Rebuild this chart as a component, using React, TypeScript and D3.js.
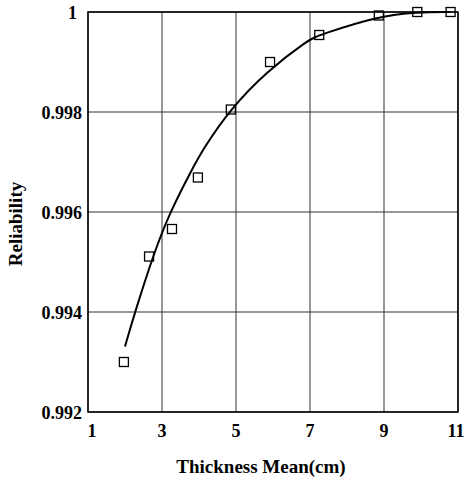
import React, { useEffect, useRef } from "react";
import * as d3 from "d3";

// measured points (squares)
const pointX = [1.97, 2.65, 3.27, 3.97, 4.86, 5.92, 7.25, 8.86, 9.9, 10.8];
const pointY = [0.993, 0.99511, 0.99566, 0.99669, 0.99805, 0.999, 0.99954, 0.99993, 1.0, 1.0];

// fitted curve
const curveX = [2.0, 2.27, 2.81, 3.22, 3.8, 4.12, 4.84, 5.83, 6.95, 7.25, 8.86, 9.9, 10.8];
const curveY = [0.99331, 0.994, 0.99524, 0.996, 0.99684, 0.99727, 0.99805, 0.99881, 0.99944, 0.99954, 0.99992, 1.0, 1.0];

const xTicks = [1, 3, 5, 7, 9, 11];
const yTicks = [0.992, 0.994, 0.996, 0.998, 1];

function App() {
  const ref = useRef<SVGSVGElement>(null);

  useEffect(() => {
    const svg = d3.select(ref.current);
    svg.selectAll("*").remove();

    const x = d3.scaleLinear().domain([1, 11]).range([88, 458]);
    const y = d3.scaleLinear().domain([0.992, 1]).range([412, 12]);
    const font = "'Liberation Serif', 'Times New Roman', serif";

    const g = svg.append("g");

    // grid
    g.selectAll("line.vg")
      .data(xTicks)
      .enter()
      .append("line")
      .attr("x1", d => x(d))
      .attr("x2", d => x(d))
      .attr("y1", y(0.992))
      .attr("y2", y(1))
      .attr("stroke", "#333")
      .attr("stroke-width", 1);
    g.selectAll("line.hg")
      .data(yTicks)
      .enter()
      .append("line")
      .attr("x1", x(1))
      .attr("x2", x(11))
      .attr("y1", d => y(d))
      .attr("y2", d => y(d))
      .attr("stroke", "#333")
      .attr("stroke-width", 1);

    // frame
    g.append("rect")
      .attr("x", x(1))
      .attr("y", y(1))
      .attr("width", x(11) - x(1))
      .attr("height", y(0.992) - y(1))
      .attr("fill", "none")
      .attr("stroke", "#000")
      .attr("stroke-width", 1.5);

    // tick labels
    g.selectAll("text.xt")
      .data(xTicks)
      .enter()
      .append("text")
      .attr("x", d => x(d) + (d === 1 ? 4 : d === 11 ? -2 : 0))
      .attr("y", 437)
      .attr("text-anchor", "middle")
      .attr("font-family", font)
      .attr("font-weight", "bold")
      .attr("font-size", 18)
      .text(d => d);
    g.selectAll("text.yt")
      .data(yTicks)
      .enter()
      .append("text")
      .attr("x", d => (d === 1 ? 77 : 82))
      .attr("y", d => y(d) + 7)
      .attr("text-anchor", "end")
      .attr("font-family", font)
      .attr("font-weight", "bold")
      .attr("font-size", 18)
      .text(d => (d === 1 ? "1" : d3.format(".3f")(d)));

    // axis titles
    g.append("text")
      .attr("x", 261)
      .attr("y", 473)
      .attr("text-anchor", "middle")
      .attr("font-family", font)
      .attr("font-weight", "bold")
      .attr("font-size", 19)
      .text("Thickness Mean(cm)");
    g.append("text")
      .attr("transform", `translate(22, 224) rotate(-90)`)
      .attr("text-anchor", "middle")
      .attr("font-family", font)
      .attr("font-weight", "bold")
      .attr("font-size", 19)
      .text("Reliability");

    // curve
    const line = d3.line<number>()
      .x(i => x(curveX[i]))
      .y(i => y(curveY[i]))
      .curve(d3.curveBasis);
    g.append("path")
      .attr("d", line(d3.range(curveX.length)))
      .attr("fill", "none")
      .attr("stroke", "#000")
      .attr("stroke-width", 2);

    // squares
    g.selectAll("rect.pt")
      .data(d3.range(pointX.length))
      .enter()
      .append("rect")
      .attr("x", i => x(pointX[i]) - 4.5)
      .attr("y", i => y(pointY[i]) - 4.5)
      .attr("width", 9)
      .attr("height", 9)
      .attr("fill", "none")
      .attr("stroke", "#000")
      .attr("stroke-width", 1.3);
  }, []);

  return (
    <svg
      ref={ref}
      width={467}
      height={480}
      style={{ position: "fixed", left: 0, top: 0, display: "block", background: "#fff" }}
    />
  );
}

export default App;
